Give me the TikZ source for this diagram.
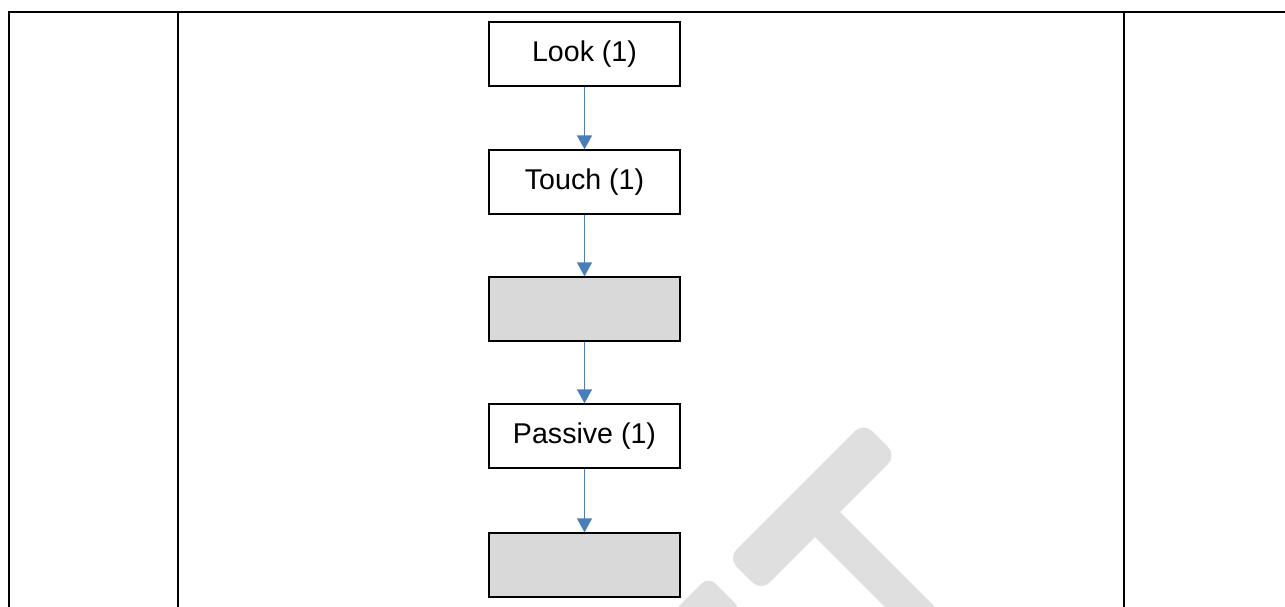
\documentclass[tikz,border=0pt]{standalone}
\usepackage{fontspec}
\setmainfont{Liberation Sans}
\usetikzlibrary{arrows.meta}
\definecolor{flowblue}{HTML}{4A7EBB}
\definecolor{boxgray}{HTML}{D9D9D9}
\definecolor{markgray}{HTML}{DFDFDF}
\begin{document}
\begin{tikzpicture}[x=1pt,y=-1pt,
  flowbox/.style={draw=black, line width=1.3pt, minimum width=191pt,
    minimum height=64pt, inner sep=0pt, font=\fontsize{28.6}{34}\selectfont},
  shaded/.style={flowbox, fill=boxgray},
  flow/.style={draw=flowblue, line width=1.4pt,
    -{Triangle[width=15pt,length=14pt]}},
  rule/.style={line width=2.2pt, line cap=rect},
  wmark/.style={fill=markgray}]
  \useasboundingbox (0,0) rectangle (1285,606);
  \clip (0,0) rectangle (1285,606);

  % faint watermark lettering
  \fill[wmark, rounded corners=12pt]
    (728,558) -- (761,591) -- (896.5,455.5) -- (863.5,422.5) -- cycle;
  \fill[wmark] (809,531) -- (834,506) -- (1014,686) -- (989,711) -- cycle;
  \fill[wmark, rounded corners=10pt]
    (592.5,692.5) -- (708.5,576.5) -- (742,610) -- (626,726) -- cycle;

  % table frame
  \coordinate (tl) at (9,12);
  \coordinate (tr) at (1290,12);
  \draw[rule] (tr) -- (tl) -- (9,612);
  \draw[rule] (178,12) -- (178,612);
  \draw[rule] (1124,12) -- (1124,612);

  % flow chart
  \node[flowbox] (look)    at (584.5,54)  {Look (1)};
  \node[flowbox] (touch)   at (584.5,182) {Touch (1)};
  \node[shaded]  (blankA)  at (584.5,309) {};
  \node[flowbox] (passive) at (584.5,436) {Passive (1)};
  \node[shaded]  (blankB)  at (584.5,565) {};

  \draw[flow] (look) -- (touch);
  \draw[flow] (touch) -- (blankA);
  \draw[flow] (blankA) -- (passive);
  \draw[flow] (passive) -- (blankB);
\end{tikzpicture}
\end{document}
